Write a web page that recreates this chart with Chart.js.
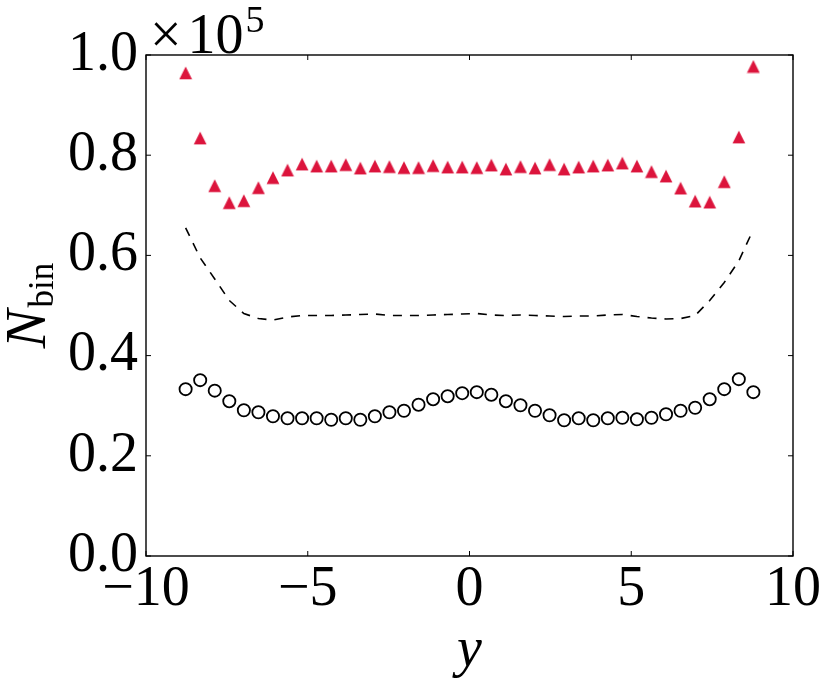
<!DOCTYPE html>
<html><head><meta charset="utf-8">
<script src="https://cdn.jsdelivr.net/npm/chart.js@4.4.0/dist/chart.umd.min.js"></script>
<style>html,body{margin:0;padding:0;background:#fff;} #wrap{width:830px;height:688px;}</style>
</head><body><div id="wrap"><canvas id="c" width="830" height="688"></canvas></div>
<script>
const binCenters = [-8.775,-8.325,-7.875,-7.425,-6.975,-6.525,-6.075,-5.625,-5.175,-4.725,
  -4.275,-3.825,-3.375,-2.925,-2.475,-2.025,-1.575,-1.125,-0.675,-0.225,
  0.225,0.675,1.125,1.575,2.025,2.475,2.925,3.375,3.825,4.275,
  4.725,5.175,5.625,6.075,6.525,6.975,7.425,7.875,8.325,8.775];
const triangleCounts = [96400,83400,73900,70500,70900,73500,75500,77000,78200,77800,
  77800,78100,77400,77800,77700,77500,77500,77900,77600,77600,
  77500,78000,77200,77700,77400,78100,77200,77600,77800,78000,
  78400,77800,76700,75800,73400,70800,70600,74700,83600,97700];
const circleCounts = [33300,35100,33000,30900,29100,28700,27900,27500,27500,27500,
  27200,27500,27200,27900,28700,29000,30200,31300,31900,32500,
  32700,32200,30900,30100,29000,28100,27100,27500,27100,27500,
  27600,27300,27600,28300,29000,29600,31300,33300,35300,32700];
const dashedCounts = [65500,59500,55300,51000,48400,47400,47100,47700,48000,48000,
  48000,48100,48200,48300,48000,48000,48000,48100,48200,48300,
  48400,48100,48000,48100,48000,47900,47800,47900,47900,48100,
  48200,47800,47500,47300,47400,48000,51000,54600,58900,65200];
const xTicks = [-10,-5,0,5,10];
const yTicks = [0,20000,40000,60000,80000,100000];
const yScaleFactor = 100000;

const FONT = "'Liberation Serif', 'DejaVu Serif', serif";

// matplotlib-like '^' marker
const tri = document.createElement('canvas');
tri.width = 14; tri.height = 14;
(function(){
  const c = tri.getContext('2d');
  c.fillStyle = '#DC143C';
  c.beginPath();
  c.moveTo(7, 0.6); c.lineTo(0.6, 13.2); c.lineTo(13.4, 13.2); c.closePath();
  c.fill();
})();

const toXY = (ys) => binCenters.map((x,i)=>({x:x, y:ys[i]}));

const framePlugin = {
  id:'frame',
  afterDraw(chart){
    const {ctx, chartArea:a, scales:{x,y}} = chart;
    ctx.save();
    ctx.strokeStyle = '#000';
    ctx.lineWidth = 1.4;
    ctx.strokeRect(a.left, a.top, a.right-a.left, a.bottom-a.top);
    ctx.lineWidth = 1;
    const L = 5;
    const seg = (x1,y1,x2,y2)=>{ctx.beginPath();ctx.moveTo(x1,y1);ctx.lineTo(x2,y2);ctx.stroke();};
    x.ticks.forEach(t=>{const p=x.getPixelForValue(t.value); seg(p,a.bottom,p,a.bottom-L); seg(p,a.top,p,a.top+L);});
    y.ticks.forEach(t=>{const p=y.getPixelForValue(t.value); seg(a.left,p,a.left+L,p); seg(a.right,p,a.right-L,p);});
    ctx.fillStyle = '#000';
    // offset text
    ctx.textBaseline = 'alphabetic';
    ctx.textAlign = 'left';
    ctx.font = "56px " + FONT;
    ctx.fillText('\u00d7', 150, 53);
    const wx = ctx.measureText('\u00d7').width;
    ctx.fillText('10', 150 + wx + 6, 53);
    const w10 = ctx.measureText('10').width;
    ctx.font = "38px " + FONT;
    ctx.fillText('5', 150 + wx + 6 + w10 + 2, 32);
    // x label
    ctx.font = "italic 56px " + FONT;
    ctx.textAlign = 'center';
    ctx.fillText('y', (a.left+a.right)/2, 666);
    // y label
    ctx.save();
    ctx.translate(45, (a.top+a.bottom)/2);
    ctx.rotate(-Math.PI/2);
    ctx.textAlign = 'left';
    ctx.font = "italic 58px " + FONT;
    const wN = ctx.measureText('N').width;
    ctx.font = "35px " + FONT;
    const wb = ctx.measureText('bin').width;
    const total = wN + 2 + wb;
    ctx.font = "italic 58px " + FONT;
    ctx.fillText('N', -total/2, 0);
    ctx.font = "35px " + FONT;
    ctx.fillText('bin', -total/2 + wN + 2, 8);
    ctx.restore();
    ctx.restore();
  }
};

new Chart(document.getElementById('c'), {
  type:'scatter',
  data:{datasets:[
    {data:toXY(triangleCounts), pointStyle:tri, pointRadius:7, pointHoverRadius:7, showLine:false},
    {data:toXY(dashedCounts), showLine:true, pointRadius:0, borderColor:'#000', borderWidth:1.6, borderDash:[9,8], fill:false},
    {data:toXY(circleCounts), pointStyle:'circle', pointRadius:6.1, pointBorderWidth:1.8, pointBorderColor:'#000', pointBackgroundColor:'rgba(0,0,0,0)', showLine:false}
  ]},
  options:{
    responsive:false, animation:false, devicePixelRatio:1,
    layout:{padding:{top:55, right:37, left:0, bottom:0}},
    plugins:{legend:{display:false}, tooltip:{enabled:false}},
    scales:{
      x:{type:'linear', min:-10, max:10,
        afterBuildTicks:s=>{s.ticks = xTicks.map(v=>({value:v}));},
        afterFit:s=>{s.height = 132;},
        grid:{display:false, drawTicks:false}, border:{display:false},
        ticks:{color:'#000', font:{family:FONT, size:56}, padding:1, maxRotation:0, minRotation:0, autoSkip:false,
          callback:v=> v<0 ? '\u2212'+Math.abs(v) : String(v)}},
      y:{type:'linear', min:0, max:100000,
        afterBuildTicks:s=>{s.ticks = yTicks.map(v=>({value:v}));},
        afterFit:s=>{s.width = 146;},
        grid:{display:false, drawTicks:false}, border:{display:false},
        ticks:{color:'#000', font:{family:FONT, size:56}, padding:8,
          callback:v=>(v/yScaleFactor).toFixed(1)}}
    }
  },
  plugins:[framePlugin]
});
</script></body></html>
